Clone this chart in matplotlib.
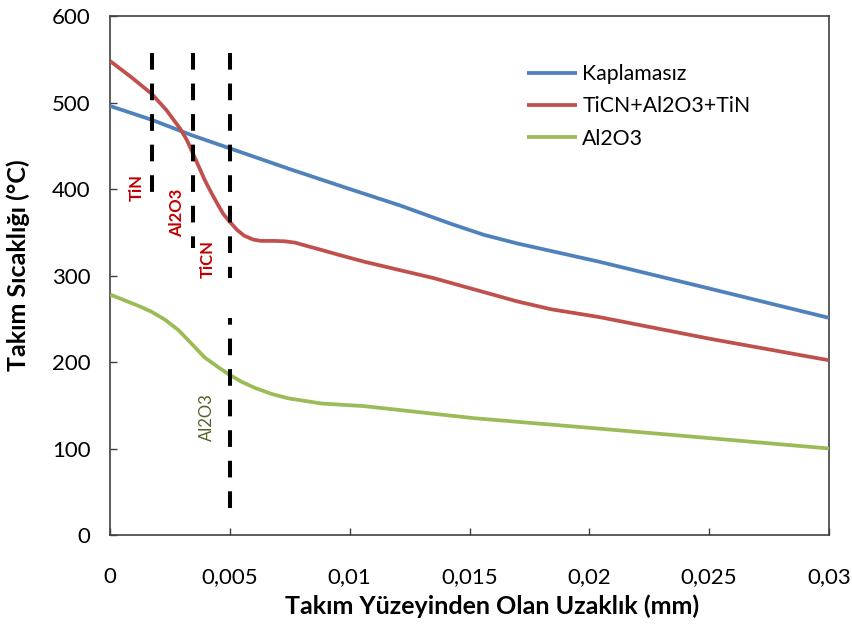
import matplotlib
matplotlib.use("Agg")
import matplotlib.pyplot as plt

plt.rcParams['font.family'] = ['Lato', 'DejaVu Sans']

# Distance from tool surface (mm) and tool temperature (°C)
x_uncoated = [0, 0.00174, 0.00343, 0.005, 0.0075, 0.01, 0.0121, 0.0142, 0.0156,
              0.017, 0.0204, 0.025, 0.03]
t_uncoated = [496, 480, 462, 447, 423, 400, 381, 360, 347, 337, 316, 285, 251]

x_multi = [0, 0.0009, 0.00174, 0.00236, 0.00292, 0.0032, 0.00343, 0.00396, 0.00424,
           0.00452, 0.00473, 0.005, 0.00529, 0.0056, 0.00598, 0.0063, 0.00688,
           0.0073, 0.00772, 0.0081, 0.00883, 0.00953, 0.0106, 0.0135, 0.017,
           0.0184, 0.0204, 0.025, 0.03]
t_multi = [548, 529, 510, 491, 470, 457, 443, 410, 395, 381, 371, 362, 353, 346,
           341.5, 340, 340, 339.5, 338, 335, 329.5, 324, 316, 297, 270, 261, 252,
           227, 202]

x_al2o3 = [0, 0.00118, 0.00174, 0.00229, 0.00285, 0.00327, 0.00396, 0.00452,
           0.00494, 0.0055, 0.00605, 0.00675, 0.00744, 0.00883, 0.0106, 0.0152,
           0.0204, 0.025, 0.03]
t_al2o3 = [278, 265, 258, 249, 237, 225, 205, 194, 186, 177, 170, 163, 158, 152,
           149, 135, 123, 112, 100]

series_labels = ['Kaplamasız', 'TiCN+Al2O3+TiN', 'Al2O3']
series_colors = ['#4F81BD', '#C0504D', '#9BBB59']

# Coating layer boundaries (dashed markers)
boundary_x = [0.00176, 0.00345, 0.005]
boundary_top = [557, 557, 557]
boundary_bottom = [395, 332, 297]
lower_boundary_x = 0.005
lower_boundary_span = [31, 251]

# Layer names written beside the boundaries
layer_names = ['TiN', 'Al2O3', 'TiCN', 'Al2O3']
layer_x = [0.00113, 0.00282, 0.00409, 0.00405]
layer_y = [402, 372, 319, 136]
layer_colors = ['#C00000', '#C00000', '#C00000', '#4F6228']
layer_weights = ['bold', 'bold', 'bold', 'normal']

x_ticks = [0, 0.005, 0.01, 0.015, 0.02, 0.025, 0.03]
x_tick_labels = ['0', '0,005', '0,01', '0,015', '0,02', '0,025', '0,03']
y_ticks = [0, 100, 200, 300, 400, 500, 600]

fig = plt.figure(figsize=(8.52, 6.26), dpi=100)
ax = fig.add_axes([110 / 852, 1 - 535 / 626, 719 / 852, 519 / 626])

for xs, ys, lab, col in zip([x_uncoated, x_multi, x_al2o3],
                            [t_uncoated, t_multi, t_al2o3],
                            series_labels, series_colors):
    ax.plot(xs, ys, color=col, lw=2.7, label=lab,
            solid_joinstyle='round', solid_capstyle='butt', zorder=3)

lw_dash = 2.9
dash_style = (0, (12 / lw_dash, 10 / lw_dash))
for bx, top, bot in zip(boundary_x, boundary_top, boundary_bottom):
    ax.plot([bx, bx], [top, bot], color='black', lw=lw_dash,
            linestyle=dash_style, dash_capstyle='butt', zorder=4)
ax.plot([lower_boundary_x, lower_boundary_x], lower_boundary_span, color='black',
        lw=lw_dash, linestyle=dash_style, dash_capstyle='butt', zorder=4)

for name, tx, ty, c, w in zip(layer_names, layer_x, layer_y, layer_colors, layer_weights):
    ax.text(tx, ty, name, rotation=90, color=c, fontsize=12, fontweight=w,
            ha='center', va='center', zorder=5)

ax.set_xlim(0, 0.03)
ax.set_ylim(0, 600)
ax.set_xticks(x_ticks)
ax.set_xticklabels(x_tick_labels)
ax.set_yticks(y_ticks)
ax.tick_params(axis='both', direction='in', length=5, width=1, color='#404040',
               labelsize=16, labelcolor='black')
ax.tick_params(axis='x', pad=23)
ax.tick_params(axis='y', pad=14)
for sp in ax.spines.values():
    sp.set_color('#404040')
    sp.set_linewidth(1.2)

ax.set_xlabel('Takım Yüzeyinden Olan Uzaklık (mm)', fontsize=18,
              fontweight='bold', va='center')
ax.xaxis.set_label_coords(0.531, -0.137)
ax.set_ylabel('Takım Sıcaklığı (°C)', fontsize=18, fontweight='bold', va='center')
ax.yaxis.set_label_coords(-0.128, 0.52)

leg = ax.legend(loc='upper left', bbox_to_anchor=(0.58, 0.9075), frameon=False,
                fontsize=15.3, handlelength=2.35, handletextpad=0.25,
                labelspacing=0.58, borderpad=0, borderaxespad=0)

fig.savefig('out.png', dpi=100)
